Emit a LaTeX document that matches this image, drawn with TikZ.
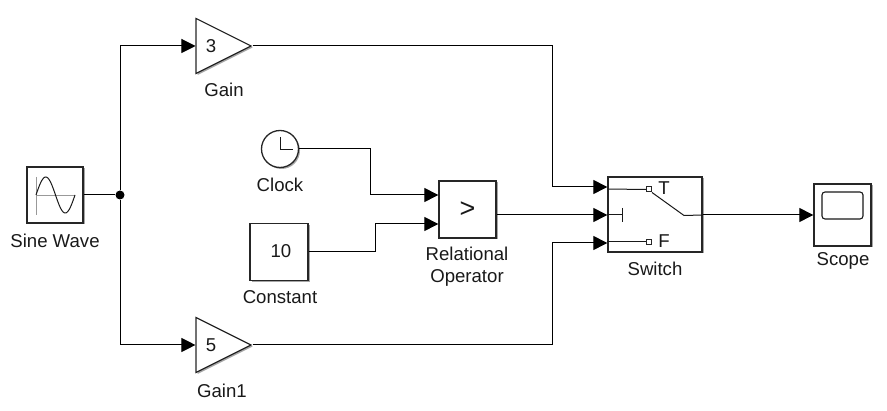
\documentclass[tikz,border=0pt]{standalone}
\usepackage{fontspec}
\setmainfont{Liberation Sans}
\usetikzlibrary{shapes,arrows.meta,positioning,shadows}
\tikzstyle{shade1}=[drop shadow={shadow xshift=1.5pt, shadow yshift=-1.5pt, opacity=.35, fill=black}]
\tikzstyle{block}=[rectangle, draw=black!85, fill=white, line width=1.3, inner sep=0pt, shade1]
\tikzstyle{txt}=[font=\fontsize{18.6}{22}\selectfont, text=black!90, inner sep=0pt, align=center]
\tikzstyle{gainblock}=[isosceles triangle, isosceles triangle stretches, shape border rotate=0, draw=black!85, fill=white, line width=1.2, inner sep=0pt, minimum width=55pt, minimum height=55pt, shade1, txt]
\tikzstyle{l1}=[line width=1]
\tikzstyle{l2}=[l1, -{Triangle[length=14pt,width=14pt]}]
\tikzstyle{icon}=[line width=1, draw=black!90]
\tikzstyle{port}=[rectangle, draw=black!85, fill=white, line width=1, minimum size=5pt, inner sep=0pt]

\begin{document}
\begin{tikzpicture}[x=1pt,y=-1pt]
    \useasboundingbox (0,0) rectangle (887,411);

    \node[block, minimum width=56pt, minimum height=56pt] (sine) at (55,195) {};
    \node[gainblock] (gaina) at (211,46) {3};
    \node[gainblock] (gainb) at (211,345) {5};
    \node[circle, draw=black!85, fill=white, line width=1.3, minimum size=37pt, inner sep=0pt, shade1] (clock) at (280,149) {};
    \node[block, minimum width=58pt, minimum height=57pt, txt] (const) at (279,252) {};
    \node[txt] (tconst) at (281,251) {10};
    \node[block, minimum width=57pt, minimum height=57pt, txt] (relop) at (467.5,209.5) {\fontsize{27}{27}\selectfont >};
    \node[block, minimum width=94pt, minimum height=75pt] (switch) at (655,214.5) {};
    \node[block, minimum width=57pt, minimum height=62pt] (scope) at (842.5,215) {};
    \node[circle, fill=black, minimum size=9pt, inner sep=0pt] (jn) at (120,195) {};

    % switch texts
    \node[txt] (tt) at (664,188) {T};
    \node[txt] (tf) at (664,241) {F};

    % labels
    \node[txt] (lsine) at (55,241) {Sine Wave};
    \node[txt] (lgaina) at (224,90) {Gain};
    \node[txt] (lgainb) at (222,391) {Gain1};
    \node[txt] (lclock) at (280,185) {Clock};
    \node[txt] (lconst) at (280,297) {Constant};
    \node[txt] (lrelop) at (467,267) {Relational\\Operator};
    \node[txt] (lswitch) at (655,269) {Switch};
    \node[txt] (lscope) at (843,261) {Scope};

    % ports
    \coordinate (ina) at (relop.west |- 0,195);
    \coordinate (inb) at (relop.west |- 0,224);
    \coordinate (swa) at (switch.west |- 0,187);
    \coordinate (swb) at (switch.west |- 0,215);
    \coordinate (swc) at (switch.west |- 0,243);
    \coordinate (swo) at (switch.east |- 0,215);
    \coordinate (sco) at (scope.west |- 0,215);
    \coordinate (relo) at (relop.east |- 0,215);

    % wires
    \draw[l1] (sine.east) -- (jn);
    \draw[l2] (jn) |- (gaina.lower side);
    \draw[l2] (jn) |- (gainb.lower side);
    \draw[l2] (gaina.apex) -- (552,46) -- (552,187) -- (swa);
    \draw[l2] (gainb.apex) -- (552,345) -- (552,243) -- (swc);
    \draw[l2] (clock.east) -- (370,149) -- (370,195) -- (ina);
    \draw[l2] (const.east) -- (375,252) -- (375,224) -- (inb);
    \draw[l2] (relo) -- (swb);
    \draw[l2] (swo) -- (sco);

    % sine icon
    \draw[black!40, line width=.8] (36,177) -- (36,215) (36,195) -- (75,195);
    \draw[icon, domain=0:360, samples=50, smooth] plot ({36+\x/360*39},{195-18*sin(\x)});

    % clock hands
    \draw[icon] (280,137) -- (280,149.5) -- (293,149.5);

    % switch icon
    \node[port] (pa) at (649,189.5) {};
    \node[port] (pc) at (649,242) {};
    \draw[icon] (swa |- 0,189) -- (pa.west);
    \draw[icon] (swc |- 0,242) -- (pc.west);
    \draw[icon] (swb) -- (622,215) (622,208) -- (622,222);
    \draw[icon] (pa.south east) -- (684,215.5) -- (swo);

    % scope icon
    \draw[icon, line width=1.1, rounded corners=3pt] (822,192) rectangle (863,219);
\end{tikzpicture}
\end{document}
